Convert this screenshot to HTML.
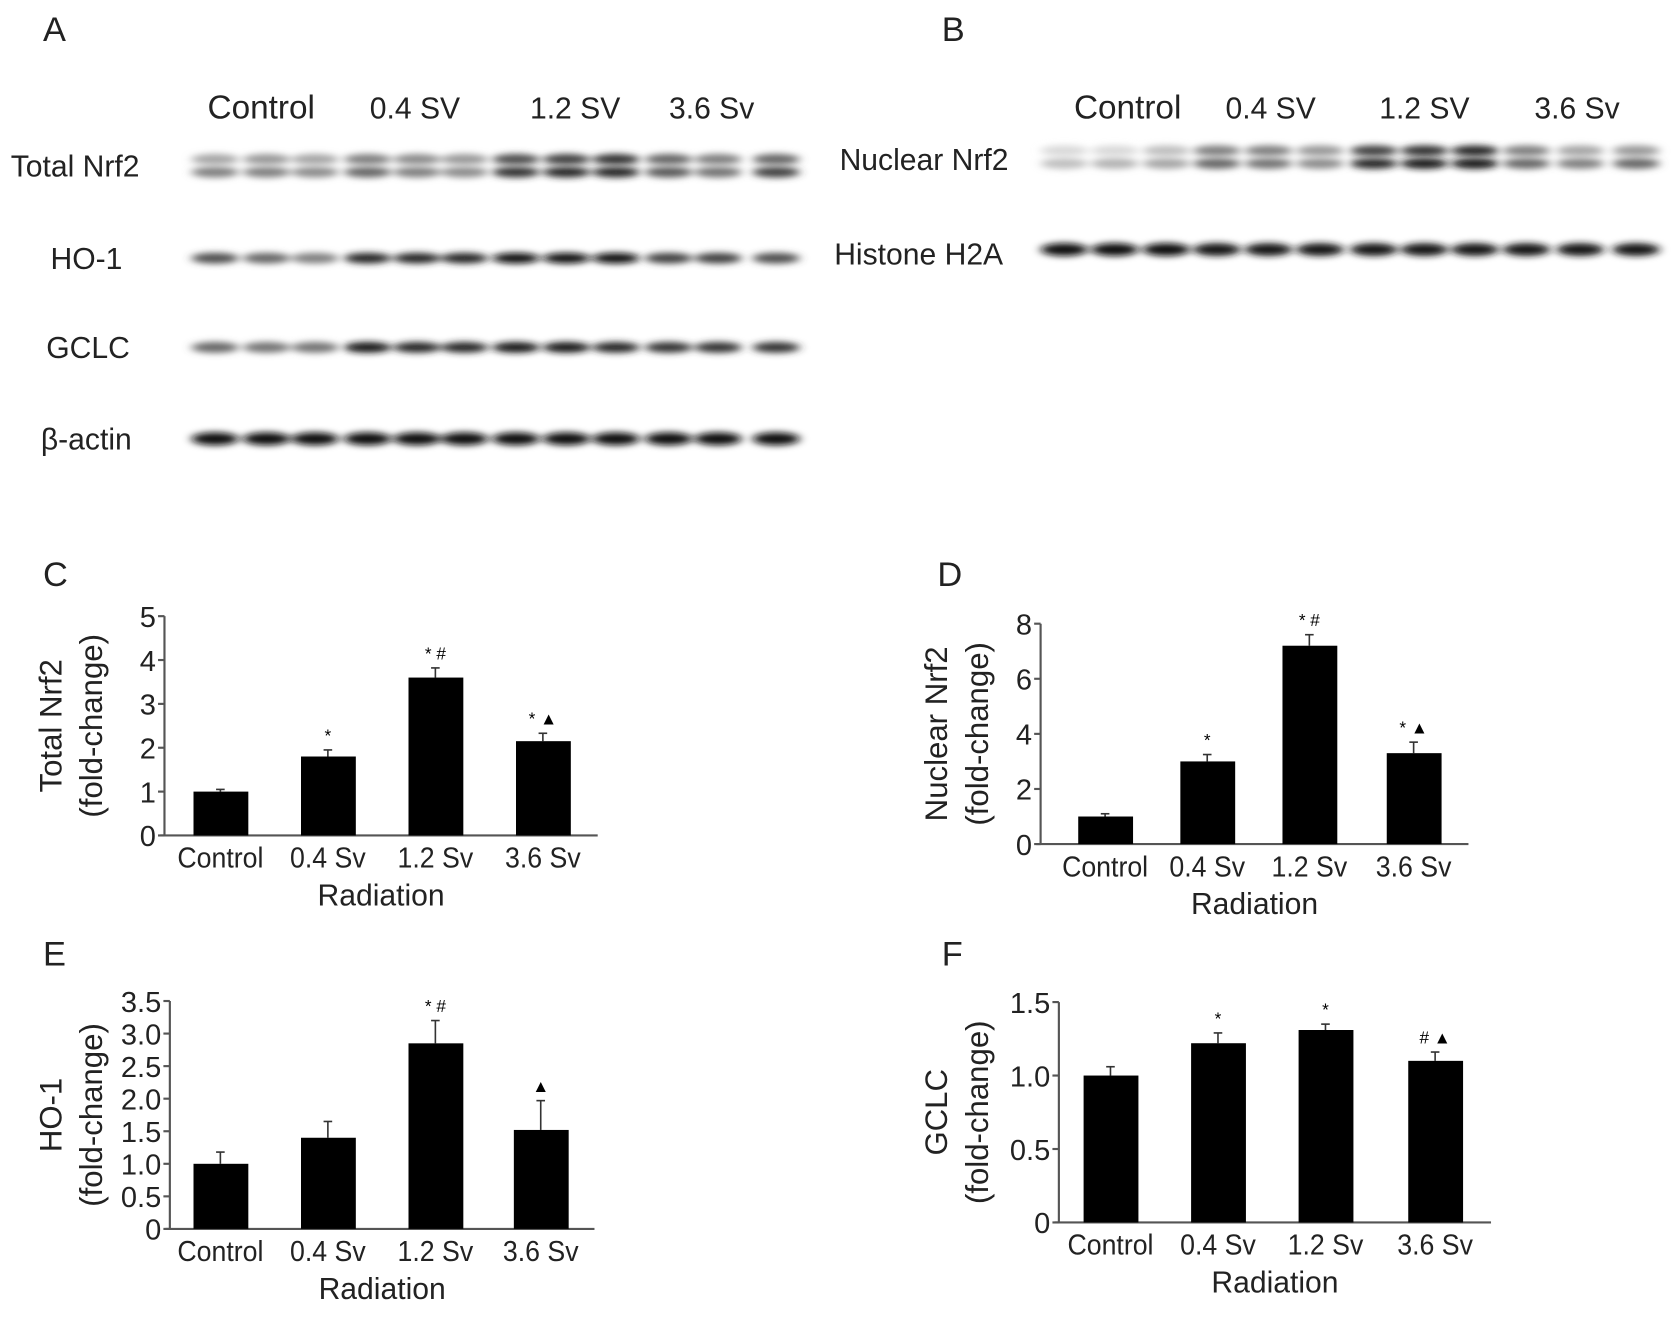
<!DOCTYPE html>
<html><head><meta charset="utf-8"><style>
html,body{margin:0;padding:0;background:#fff;}
svg{display:block;}
text{font-family:"Liberation Sans",Arial,sans-serif;fill:#222;}
</style></head><body>
<svg id="fig" width="1677" height="1328" viewBox="0 0 1560 1235" xmlns="http://www.w3.org/2000/svg">
<defs>
<filter id="blur" x="-50%" y="-200%" width="200%" height="500%"><feGaussianBlur stdDeviation="4.5 3"/></filter>
</defs>
<rect x="0" y="0" width="1560" height="1235" fill="#fff"/>
<g id="blots"></g>
<g id="charts"></g>
</svg>
<script>
// ---- blot data (band intensity 0..1 per lane) ----
const laneGroups = ["Control","0.4 SV","1.2 SV","3.6 Sv"];
const totalNrf2Upper = [0.35,0.4,0.35,0.5,0.45,0.4,0.7,0.75,0.8,0.6,0.5,0.6];
const totalNrf2Lower = [0.5,0.5,0.45,0.6,0.5,0.45,0.8,0.85,0.85,0.65,0.55,0.75];
const ho1Band = [0.7,0.6,0.5,0.85,0.85,0.85,0.95,0.95,0.95,0.75,0.75,0.7];
const gclcBand = [0.6,0.55,0.55,0.9,0.85,0.85,0.9,0.9,0.85,0.8,0.8,0.8];
const actinBand = [0.95,0.95,0.95,0.95,0.95,0.95,0.95,0.95,0.95,0.95,0.95,0.95];
const nucNrf2Upper = [0.15,0.15,0.25,0.5,0.5,0.4,0.75,0.8,0.85,0.5,0.35,0.4];
const nucNrf2Lower = [0.25,0.3,0.35,0.6,0.55,0.45,0.85,0.9,0.9,0.6,0.5,0.6];
const h2aBand = [0.95,0.95,0.95,0.9,0.9,0.9,0.9,0.9,0.9,0.9,0.9,0.9];

// ---- chart data ----
const categories = ["Control","0.4 Sv","1.2 Sv","3.6 Sv"];
const totalNrf2Values = [1.0,1.8,3.6,2.15];
const totalNrf2Errors = [0.05,0.15,0.22,0.18];
const totalNrf2Marks = ["","*","*#","*▲"];
const totalNrf2Ticks = ["0","1","2","3","4","5"];
const nuclearNrf2Values = [1.0,3.0,7.2,3.3];
const nuclearNrf2Errors = [0.1,0.25,0.4,0.4];
const nuclearNrf2Marks = ["","*","*#","*▲"];
const nuclearNrf2Ticks = ["0","2","4","6","8"];
const ho1Values = [1.0,1.4,2.85,1.52];
const ho1Errors = [0.18,0.25,0.35,0.45];
const ho1Marks = ["","","*#","▲"];
const ho1Ticks = ["0","0.5","1.0","1.5","2.0","2.5","3.0","3.5"];
const gclcValues = [1.0,1.22,1.31,1.10];
const gclcErrors = [0.06,0.07,0.04,0.06];
const gclcMarks = ["","*","*","#▲"];
const gclcTicks = ["0","0.5","1.0","1.5"];

const NS="http://www.w3.org/2000/svg";
function mk(tag,attrs,parent,txt){const e=document.createElementNS(NS,tag);for(const k in attrs)e.setAttribute(k,attrs[k]);if(txt!==undefined)e.textContent=txt;parent.appendChild(e);return e;}

const blots=document.getElementById('blots');
const lanesA=[200,248,293,342,388,432,480,527,573,622,668,722];
const lanesB=[990,1037,1085,1132,1180,1228,1278,1325,1372,1420,1470,1522];
function drawBand(arr,lanes,y,h,name){
  const g=mk('g',{filter:'url(#blur)'},blots);
  
  
  arr.forEach((v,i)=>{const c=Math.round(255*(1-v));mk('ellipse',{cx:lanes[i],cy:y,rx:22,ry:h,fill:`rgb(${c},${c},${c})`},g);});
}
drawBand(totalNrf2Upper,lanesA,148,5,'total-nrf2-band-upper');
drawBand(totalNrf2Lower,lanesA,160,5,'total-nrf2-band-lower');
drawBand(ho1Band,lanesA,240,5,'ho1-band');
drawBand(gclcBand,lanesA,323,5,'gclc-band');
drawBand(actinBand,lanesA,408,6,'actin-band');
drawBand(nucNrf2Upper,lanesB,140,5,'nuclear-nrf2-band-upper');
drawBand(nucNrf2Lower,lanesB,152,5,'nuclear-nrf2-band-lower');
drawBand(h2aBand,lanesB,232,6,'h2a-band');

function lbl(x,y,s,size,name,anchor){const t=mk('text',{x:x,y:y,'font-size':size,'text-anchor':anchor||'start'},blots,s);return t;}
lbl(40,38,'A',32,'panel-label-a');
lbl(876,38,'B',32,'panel-label-b');
const gxA=[243,386,535,662], gxB=[1049,1182,1325,1467];
laneGroups.forEach((s,i)=>{lbl(gxA[i],110,s,i==0?31:28,'blot-a-group-'+i,'middle');lbl(gxB[i],110,s,i==0?31:28,'blot-b-group-'+i,'middle');});
lbl(10,164,'Total Nrf2',28,'label-total-nrf2');
lbl(47,250,'HO-1',28,'label-ho1');
lbl(43,333,'GCLC',28,'label-gclc');
lbl(38,418,'β-actin',28,'label-actin');
lbl(781,158,'Nuclear Nrf2',28,'label-nuclear-nrf2');
lbl(776,246,'Histone H2A',28,'label-histone-h2a');

const charts=document.getElementById('charts');
function chart(o){
  const g=mk('g',{},charts);
  
  
  const y=v=>o.y0-(v/o.max)*(o.y0-o.yTop);
  const t=mk('text',{x:o.letterX,y:o.letterY,'font-size':32},g,o.letter);
  
  
  mk('line',{x1:o.ax,y1:o.yTop,x2:o.ax,y2:o.y0,stroke:'#555','stroke-width':2},g);
  mk('line',{x1:o.ax-4,y1:o.y0,x2:o.xEnd,y2:o.y0,stroke:'#555','stroke-width':2},g);
  o.ticks.forEach((s,i)=>{const v=o.max*i/(o.ticks.length-1);const yy=y(v);
    mk('line',{x1:o.ax-6,y1:yy,x2:o.ax,y2:yy,stroke:'#555','stroke-width':2},g);
    const tt=mk('text',{x:o.ax-8,y:yy+10,'font-size':27,'text-anchor':'end'},g,s);
    
    });
  categories.forEach((c,i)=>{
    const bx=o.bars[i], v=o.values[i], e=o.errors[i];
    const top=y(v), et=y(v+e);
    mk('line',{x1:bx+25,y1:et,x2:bx+25,y2:top,stroke:'#333','stroke-width':1.5},g);
    mk('line',{x1:bx+21,y1:et,x2:bx+29,y2:et,stroke:'#333','stroke-width':1.5},g);
    const r=mk('rect',{x:bx,y:top,width:51,height:o.y0-top,fill:'#000'},g);
    
    
    if(o.marks[i]){const m=mk('text',{x:bx+25,y:et-8,'font-size':16,'text-anchor':'middle',style:'fill:#000'},g,o.marks[i].split('').join(' '));
      
      }
    const xl=mk('text',{x:bx+25,y:o.y0+30,'font-size':27,'text-anchor':'middle',transform:`translate(${(bx+25)*0.08},0) scale(0.92,1)`},g,c);
    
    
  });
  const xt=mk('text',{x:(o.ax+o.xEnd)/2,y:o.y0+65,'font-size':28,'text-anchor':'middle'},g,'Radiation');
  
  
  const cy=(o.yTop+o.y0)/2;
  const t1=mk('text',{x:0,y:0,'font-size':29,'text-anchor':'middle',transform:`translate(${o.titleX},${cy}) rotate(-90)`},g,o.title);
  
  
  const t2=mk('text',{x:0,y:0,'font-size':29,'text-anchor':'middle',transform:`translate(${o.titleX+38},${cy}) rotate(-90)`},g,'(fold-change)');
  
  
}
chart({name:'chart-c-total-nrf2',letter:'C',letterX:40,letterY:545,ax:153,y0:777,yTop:573,max:5,xEnd:556,bars:[180,280,380,480],values:totalNrf2Values,errors:totalNrf2Errors,marks:totalNrf2Marks,ticks:totalNrf2Ticks,title:'Total Nrf2',titleX:57});
chart({name:'chart-d-nuclear-nrf2',letter:'D',letterX:872,letterY:545,ax:968,y0:785,yTop:580,max:8,xEnd:1366,bars:[1003,1098,1193,1290],values:nuclearNrf2Values,errors:nuclearNrf2Errors,marks:nuclearNrf2Marks,ticks:nuclearNrf2Ticks,title:'Nuclear Nrf2',titleX:881});
chart({name:'chart-e-ho1',letter:'E',letterX:40,letterY:898,ax:158,y0:1143,yTop:931,max:3.5,xEnd:553,bars:[180,280,380,478],values:ho1Values,errors:ho1Errors,marks:ho1Marks,ticks:ho1Ticks,title:'HO-1',titleX:57});
chart({name:'chart-f-gclc',letter:'F',letterX:876,letterY:898,ax:985,y0:1137,yTop:932,max:1.5,xEnd:1387,bars:[1008,1108,1208,1310],values:gclcValues,errors:gclcErrors,marks:gclcMarks,ticks:gclcTicks,title:'GCLC',titleX:881});
</script>
</body></html>
